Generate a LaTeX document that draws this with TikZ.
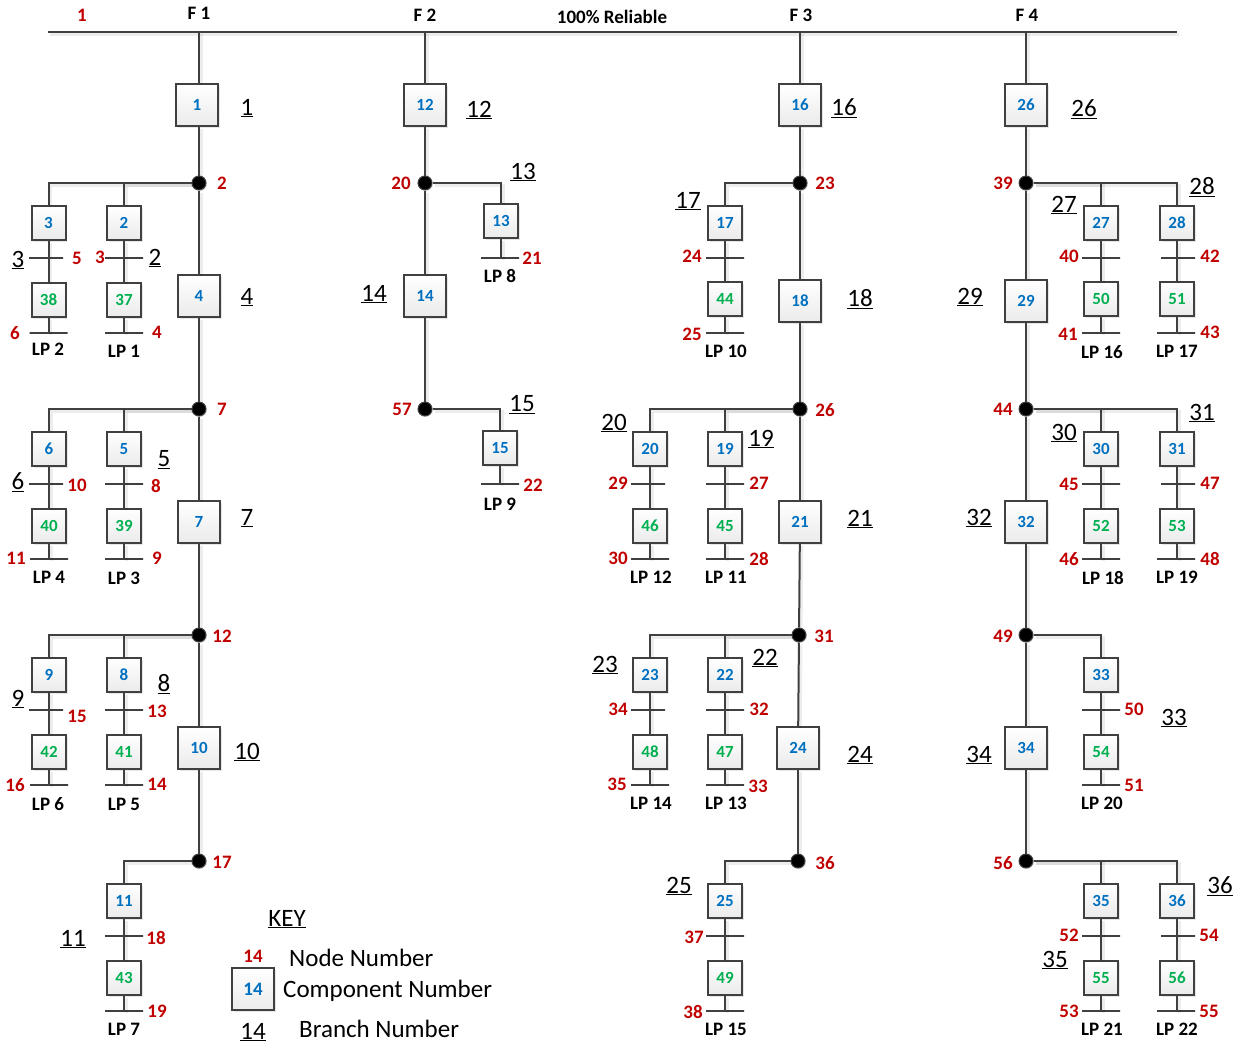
\documentclass[tikz,border=0pt]{standalone}
\usepackage{fontspec}
\setmainfont{Carlito}
\usetikzlibrary{positioning,shadows}
\definecolor{wirecol}{HTML}{404040}
\definecolor{nodered}{HTML}{C00000}
\definecolor{compblue}{HTML}{0070C0}
\definecolor{loadgreen}{HTML}{00B050}

\begin{document}
\begin{tikzpicture}[
  x=1pt, y=-1pt,
  box/.style={draw=wirecol, line width=2pt, top color=white, bottom color=black!8,
              inner sep=0pt, font=\fontsize{17}{17}\selectfont\bfseries,
              drop shadow={shadow xshift=1.5pt, shadow yshift=-1.5pt, opacity=0.2}},
  bigcomp/.style={box, minimum size=42pt, text=compblue},
  comp/.style={box, minimum size=34pt, text=compblue},
  load/.style={box, minimum size=34pt, text=loadgreen},
  dot/.style={circle, fill=black, draw=wirecol, line width=1pt, minimum size=14pt, inner sep=0pt,
              drop shadow={shadow xshift=1pt, shadow yshift=-1pt, opacity=0.2}},
  bar/.style={draw=wirecol, line width=2pt, minimum width=#1, minimum height=0pt, inner sep=0pt, outer sep=0pt},
  bar/.default=38pt,
  nodeno/.style={text=nodered, inner sep=0pt, yshift=-0.7pt, font=\fontsize{19}{19}\selectfont\bfseries},
  branch/.style={inner sep=0pt, font=\fontsize{25}{25}\selectfont},
  tag/.style={inner sep=0pt, yshift=-0.7pt, font=\fontsize{19}{19}\selectfont\bfseries},
  keytext/.style={inner sep=0pt, anchor=west, font=\fontsize{25}{25}\selectfont},
  wire/.style={draw=wirecol, line width=2pt,
               preaction={draw=black, draw opacity=0.07, line width=3pt, transform canvas={shift={(2pt,-2pt)}}}},
]
\useasboundingbox (0,0) rectangle (1241,1047);
% supply bus
\coordinate (busl) at (48,32);
\coordinate (busr) at (1177,32);
\coordinate (f1) at (199,32);
\coordinate (f2) at (425,32);
\coordinate (f3) at (800,32);
\coordinate (f4) at (1026,32);
\node[nodeno] (r1) at (82,15) {1};
\node[tag] (tf1) at (199,13) {F 1};
\node[tag] (tf2) at (425,15) {F 2};
\node[tag] (rel) at (612,16) {100\% Reliable};
\node[tag] (tf3) at (801,15) {F 3};
\node[tag] (tf4) at (1027,15) {F 4};
% feeder 1, trunk
\node[bigcomp] (c1) at (197,105) {1};
\node[dot] (d2) at (199,183) {};
\node[bigcomp] (c4) at (199,296) {4};
\node[dot] (d7) at (199,409) {};
\node[bigcomp] (c7) at (199,522) {7};
\node[dot] (d12) at (199,635) {};
\node[bigcomp] (c10) at (199,748) {10};
\node[dot] (d17) at (199,861) {};
\node[nodeno] (r2) at (222,183) {2};
\node[nodeno] (r7) at (222,409) {7};
\node[nodeno] (r12) at (222,636) {12};
\node[nodeno] (r17) at (222,862) {17};
\node[branch] (br1) at (247,108) {\underline{1}};
\node[branch] (br4) at (247,297) {\underline{4}};
\node[branch] (br7) at (247,518) {\underline{7}};
\node[branch] (br10) at (247,752) {\underline{10}};
% feeder 1, laterals at node 2
\node[comp] (c3) at (48.5,223) {3};
\node[comp] (c2) at (124,223) {2};
\node[load] (c38) at (48.5,300) {38};
\node[load] (c37) at (124,300) {37};
\node[bar=34pt] (bar5) at (46,258) {};
\node[bar] (bar3) at (124,258) {};
\node[bar] (bar6) at (48.5,333) {};
\node[bar] (bar4) at (124,333) {};
\node[nodeno] (r5) at (77,258) {5};
\node[nodeno] (r3) at (100,257) {3};
\node[nodeno] (r6) at (15,332) {6};
\node[nodeno] (r4) at (157,332) {4};
\node[branch] (br3) at (18,260) {\underline{3}};
\node[branch] (br2) at (155,258) {\underline{2}};
\node[tag] (lp2) at (48,349) {LP 2};
\node[tag] (lp1) at (124,351) {LP 1};
% feeder 1, laterals at node 7
\node[comp] (c6) at (49,449) {6};
\node[comp] (c5) at (124,449) {5};
\node[load] (c40) at (49,526) {40};
\node[load] (c39) at (124,526) {39};
\node[bar=34pt] (bar10) at (46,484) {};
\node[bar] (bar8) at (124,484) {};
\node[bar] (bar11) at (49,559) {};
\node[bar] (bar9) at (124,559) {};
\node[nodeno] (r10) at (77,485) {10};
\node[nodeno] (r8) at (156,485) {8};
\node[nodeno] (r11) at (16,558) {11};
\node[nodeno] (r9) at (157,558) {9};
\node[branch] (br6) at (18,482) {\underline{6}};
\node[branch] (br5) at (164,460) {\underline{5}};
\node[tag] (lp4) at (49,577) {LP 4};
\node[tag] (lp3) at (124,578) {LP 3};
% feeder 1, laterals at node 12
\node[comp] (c9) at (49,675) {9};
\node[comp] (c8) at (124,675) {8};
\node[load] (c42) at (49,752) {42};
\node[load] (c41) at (124,752) {41};
\node[bar=34pt] (bar15) at (46,710) {};
\node[bar] (bar13) at (124,710) {};
\node[bar] (bar16) at (49,785) {};
\node[bar] (bar14) at (124,785) {};
\node[nodeno] (r15) at (77,716) {15};
\node[nodeno] (r13) at (157,711) {13};
\node[nodeno] (r16) at (15,784) {16};
\node[nodeno] (r14) at (157,784) {14};
\node[branch] (br9) at (18,699) {\underline{9}};
\node[branch] (br8) at (164,684) {\underline{8}};
\node[tag] (lp6) at (48,803) {LP 6};
\node[tag] (lp5) at (124,804) {LP 5};
% feeder 1, lateral at node 17
\node[comp] (c11) at (124,901) {11};
\node[load] (c43) at (124,978) {43};
\node[bar] (bar18) at (124,936) {};
\node[bar] (bar19) at (124,1011) {};
\node[nodeno] (r18) at (156,937) {18};
\node[nodeno] (r19) at (157,1011) {19};
\node[branch] (br11) at (73,939) {\underline{11}};
\node[tag] (lp7) at (124,1029) {LP 7};
% key
\node[branch] (key) at (287,919) {\underline{KEY}};
\node[nodeno] (rkey) at (253,956) {14};
\node[bigcomp, font=\fontsize{19}{19}\selectfont\bfseries] (ckey) at (253,989) {14};
\node[branch] (brkey) at (253,1032) {\underline{14}};
\node[keytext] (knode) at (289,958) {Node Number};
\node[keytext] (kcomp) at (283,991) {Component Number};
\node[keytext] (kbranch) at (299,1029) {Branch Number};
% feeder 2
\node[bigcomp] (c12) at (425,105) {12};
\node[dot] (d20) at (425,183) {};
\node[comp] (c13) at (501,221) {13};
\node[bar] (bar21) at (500,258) {};
\node[bigcomp] (c14) at (425,296) {14};
\node[dot] (d57) at (425,409) {};
\node[comp] (c15) at (500,448) {15};
\node[bar] (bar22) at (500,484) {};
\node[nodeno] (r20) at (401,183) {20};
\node[nodeno] (r21) at (532,258) {21};
\node[nodeno] (r57) at (402,409) {57};
\node[nodeno] (r22) at (533,485) {22};
\node[branch] (br12) at (479,110) {\underline{12}};
\node[branch] (br13) at (523,172) {\underline{13}};
\node[branch] (br14) at (374,294) {\underline{14}};
\node[branch] (br15) at (522,405) {\underline{15}};
\node[tag] (lp8) at (500,275) {LP 8};
\node[tag] (lp9) at (500,504) {LP 9};
% feeder 3, trunk
\node[bigcomp] (c16) at (800,105) {16};
\node[dot] (d23) at (800,183) {};
\node[bigcomp] (c18) at (800,301) {18};
\node[dot] (d26) at (800,409) {};
\node[bigcomp] (c21) at (800,522) {21};
\node[dot] (d31) at (799,635) {};
\node[bigcomp] (c24) at (798,748) {24};
\node[dot] (d36) at (798,861) {};
\node[nodeno] (r23) at (825,183) {23};
\node[nodeno] (r26) at (825,409) {26};
\node[nodeno] (r31) at (824,636) {31};
\node[nodeno] (r36) at (825,862) {36};
\node[branch] (br16) at (844,108) {\underline{16}};
\node[branch] (br18) at (860,299) {\underline{18}};
\node[branch] (br21) at (860,519) {\underline{21}};
\node[branch] (br24) at (860,755) {\underline{24}};
% feeder 3, lateral at node 23
\node[comp] (c17) at (725,223) {17};
\node[load] (c44) at (725,299) {44};
\node[bar] (bar24) at (725,258) {};
\node[bar] (bar25) at (725,333) {};
\node[nodeno] (r24) at (692,256) {24};
\node[nodeno] (r25) at (692,334) {25};
\node[branch] (br17) at (688,201) {\underline{17}};
\node[tag] (lp10) at (726,351) {LP 10};
% feeder 3, laterals at node 26
\node[comp] (c20) at (650,449) {20};
\node[comp] (c19) at (725,449) {19};
\node[load] (c46) at (650,526) {46};
\node[load] (c45) at (725,526) {45};
\node[bar=34pt] (bar29) at (648,484) {};
\node[bar] (bar27) at (725,484) {};
\node[bar] (bar30) at (650,559) {};
\node[bar] (bar28) at (725,559) {};
\node[nodeno] (r29) at (618,483) {29};
\node[nodeno] (r27) at (759,483) {27};
\node[nodeno] (r30) at (618,558) {30};
\node[nodeno] (r28) at (759,558) {28};
\node[branch] (br20) at (614,423) {\underline{20}};
\node[branch] (br19) at (761,439) {\underline{19}};
\node[tag] (lp12) at (651,577) {LP 12};
\node[tag] (lp11) at (726,577) {LP 11};
% feeder 3, laterals at node 31
\node[comp] (c23) at (650,675) {23};
\node[comp] (c22) at (725,675) {22};
\node[load] (c48) at (650,752) {48};
\node[load] (c47) at (725,752) {47};
\node[bar=34pt] (bar34) at (648,710) {};
\node[bar] (bar32) at (725,710) {};
\node[bar] (bar35) at (650,785) {};
\node[bar] (bar33) at (725,785) {};
\node[nodeno] (r34) at (618,709) {34};
\node[nodeno] (r32) at (759,709) {32};
\node[nodeno] (r35) at (617,784) {35};
\node[nodeno] (r33) at (758,786) {33};
\node[branch] (br23) at (605,665) {\underline{23}};
\node[branch] (br22) at (765,658) {\underline{22}};
\node[tag] (lp14) at (651,803) {LP 14};
\node[tag] (lp13) at (726,803) {LP 13};
% feeder 3, lateral at node 36
\node[comp] (c25) at (725,901) {25};
\node[load] (c49) at (725,978) {49};
\node[bar] (bar37) at (725,936) {};
\node[bar] (bar38) at (725,1011) {};
\node[nodeno] (r37) at (694,937) {37};
\node[nodeno] (r38) at (693,1011) {38};
\node[branch] (br25) at (679,886) {\underline{25}};
\node[tag] (lp15) at (726,1029) {LP 15};
% feeder 4, trunk
\node[bigcomp] (c26) at (1026,105) {26};
\node[dot] (d39) at (1026,183) {};
\node[bigcomp] (c29) at (1026,301) {29};
\node[dot] (d44) at (1026,409) {};
\node[bigcomp] (c32) at (1026,522) {32};
\node[dot] (d49) at (1026,635) {};
\node[bigcomp] (c34) at (1026,748) {34};
\node[dot] (d56) at (1026,861) {};
\node[nodeno] (r39) at (1003,183) {39};
\node[nodeno] (r44) at (1003,409) {44};
\node[nodeno] (r49) at (1003,636) {49};
\node[nodeno] (r56) at (1003,862) {56};
\node[branch] (br26) at (1084,109) {\underline{26}};
\node[branch] (br29) at (970,297) {\underline{29}};
\node[branch] (br32) at (979,518) {\underline{32}};
\node[branch] (br34) at (979,755) {\underline{34}};
% feeder 4, laterals at node 39
\node[comp] (c27) at (1101,223) {27};
\node[comp] (c28) at (1177,223) {28};
\node[load] (c50) at (1101,299) {50};
\node[load] (c51) at (1177,299) {51};
\node[bar] (bar40) at (1101,258) {};
\node[bar=34pt] (bar42) at (1178,258) {};
\node[bar] (bar41) at (1101,333) {};
\node[bar] (bar43) at (1176,333) {};
\node[nodeno] (r40) at (1069,256) {40};
\node[nodeno] (r42) at (1210,256) {42};
\node[nodeno] (r41) at (1068,334) {41};
\node[nodeno] (r43) at (1210,332) {43};
\node[branch] (br27) at (1064,205) {\underline{27}};
\node[branch] (br28) at (1202,187) {\underline{28}};
\node[tag] (lp16) at (1102,351) {LP 16};
\node[tag] (lp17) at (1177,351) {LP 17};
% feeder 4, laterals at node 44
\node[comp] (c30) at (1101,449) {30};
\node[comp] (c31) at (1177,449) {31};
\node[load] (c52) at (1101,526) {52};
\node[load] (c53) at (1177,526) {53};
\node[bar] (bar45) at (1101,484) {};
\node[bar=34pt] (bar47) at (1178,484) {};
\node[bar] (bar46) at (1101,559) {};
\node[bar] (bar48) at (1176,559) {};
\node[nodeno] (r45) at (1069,484) {45};
\node[nodeno] (r47) at (1210,483) {47};
\node[nodeno] (r46) at (1069,558) {46};
\node[nodeno] (r48) at (1210,558) {48};
\node[branch] (br30) at (1064,433) {\underline{30}};
\node[branch] (br31) at (1202,413) {\underline{31}};
\node[tag] (lp18) at (1103,577) {LP 18};
\node[tag] (lp19) at (1177,577) {LP 19};
% feeder 4, lateral at node 49
\node[comp] (c33) at (1101,675) {33};
\node[load] (c54) at (1101,752) {54};
\node[bar] (bar50) at (1101,710) {};
\node[bar] (bar51) at (1101,785) {};
\node[nodeno] (r50) at (1134,709) {50};
\node[nodeno] (r51) at (1134,785) {51};
\node[branch] (br33) at (1174,718) {\underline{33}};
\node[tag] (lp20) at (1102,803) {LP 20};
% feeder 4, laterals at node 56
\node[comp] (c35) at (1101,901) {35};
\node[comp] (c36) at (1177,901) {36};
\node[load] (c55) at (1101,978) {55};
\node[load] (c56) at (1177,978) {56};
\node[bar] (bar52) at (1101,936) {};
\node[bar=34pt] (bar54) at (1178,936) {};
\node[bar] (bar53) at (1101,1011) {};
\node[bar] (bar55) at (1176,1011) {};
\node[nodeno] (r52) at (1069,935) {52};
\node[nodeno] (r54) at (1209,935) {54};
\node[nodeno] (r53) at (1069,1011) {53};
\node[nodeno] (r55) at (1209,1011) {55};
\node[branch] (br36) at (1220,886) {\underline{36}};
\node[branch] (br35) at (1055,960) {\underline{35}};
\node[tag] (lp21) at (1102,1029) {LP 21};
\node[tag] (lp22) at (1177,1029) {LP 22};
% connectors
\draw[wire] (busl) -- (busr);
\draw[wire] (f1) -- (f1 |- c1.north);
\draw[wire] (f1 |- c1.south) -- (d2);
\draw[wire] (d2) -- (c4);
\draw[wire] (c4) -- (d7);
\draw[wire] (d7) -- (c7);
\draw[wire] (c7) -- (d12);
\draw[wire] (d12) -- (c10);
\draw[wire] (c10) -- (d17);
\draw[wire] (d2) -| (c3);
\draw[wire] (d2) -| (c2);
\draw[wire] (c3) -- (c38);
\draw[wire] (c2) -- (c37);
\draw[wire] (c38) -- (c38 |- bar6);
\draw[wire] (c37) -- (c37 |- bar4);
\draw[wire] (d7) -| (c6);
\draw[wire] (d7) -| (c5);
\draw[wire] (c6) -- (c40);
\draw[wire] (c5) -- (c39);
\draw[wire] (c40) -- (c40 |- bar11);
\draw[wire] (c39) -- (c39 |- bar9);
\draw[wire] (d12) -| (c9);
\draw[wire] (d12) -| (c8);
\draw[wire] (c9) -- (c42);
\draw[wire] (c8) -- (c41);
\draw[wire] (c42) -- (c42 |- bar16);
\draw[wire] (c41) -- (c41 |- bar14);
\draw[wire] (d17) -| (c11);
\draw[wire] (c11) -- (c43);
\draw[wire] (c43) -- (c43 |- bar19);
\draw[wire] (f2) -- (c12);
\draw[wire] (c12) -- (d20);
\draw[wire] (d20) -- (c14);
\draw[wire] (c14) -- (d57);
\draw[wire] (d20) -| (c13);
\draw[wire] (c13) -- (c13 |- bar21);
\draw[wire] (d57) -| (c15);
\draw[wire] (c15) -- (c15 |- bar22);
\draw[wire] (f3) -- (c16);
\draw[wire] (c16) -- (d23);
\draw[wire] (d23) -- (c18);
\draw[wire] (c18) -- (d26);
\draw[wire] (d26) -- (c21);
\draw[wire] (c21) -- (d31);
\draw[wire] (d31) -- (c24);
\draw[wire] (c24) -- (d36);
\draw[wire] (d23) -| (c17);
\draw[wire] (c17) -- (c44);
\draw[wire] (c44) -- (c44 |- bar25);
\draw[wire] (d26) -| (c20);
\draw[wire] (d26) -| (c19);
\draw[wire] (c20) -- (c46);
\draw[wire] (c19) -- (c45);
\draw[wire] (c46) -- (c46 |- bar30);
\draw[wire] (c45) -- (c45 |- bar28);
\draw[wire] (d31) -| (c23);
\draw[wire] (d31) -| (c22);
\draw[wire] (c23) -- (c48);
\draw[wire] (c22) -- (c47);
\draw[wire] (c48) -- (c48 |- bar35);
\draw[wire] (c47) -- (c47 |- bar33);
\draw[wire] (d36) -| (c25);
\draw[wire] (c25) -- (c49);
\draw[wire] (c49) -- (c49 |- bar38);
\draw[wire] (f4) -- (c26);
\draw[wire] (c26) -- (d39);
\draw[wire] (d39) -- (c29);
\draw[wire] (c29) -- (d44);
\draw[wire] (d44) -- (c32);
\draw[wire] (c32) -- (d49);
\draw[wire] (d49) -- (c34);
\draw[wire] (c34) -- (d56);
\draw[wire] (d39) -| (c27);
\draw[wire] (d39) -| (c28);
\draw[wire] (c27) -- (c50);
\draw[wire] (c28) -- (c51);
\draw[wire] (c50) -- (c50 |- bar41);
\draw[wire] (c51) -- (c51 |- bar43);
\draw[wire] (d44) -| (c30);
\draw[wire] (d44) -| (c31);
\draw[wire] (c30) -- (c52);
\draw[wire] (c31) -- (c53);
\draw[wire] (c52) -- (c52 |- bar46);
\draw[wire] (c53) -- (c53 |- bar48);
\draw[wire] (d49) -| (c33);
\draw[wire] (c33) -- (c54);
\draw[wire] (c54) -- (c54 |- bar51);
\draw[wire] (d56) -| (c35);
\draw[wire] (d56) -| (c36);
\draw[wire] (c35) -- (c55);
\draw[wire] (c36) -- (c56);
\draw[wire] (c55) -- (c55 |- bar53);
\draw[wire] (c56) -- (c56 |- bar55);
\end{tikzpicture}
\end{document}
